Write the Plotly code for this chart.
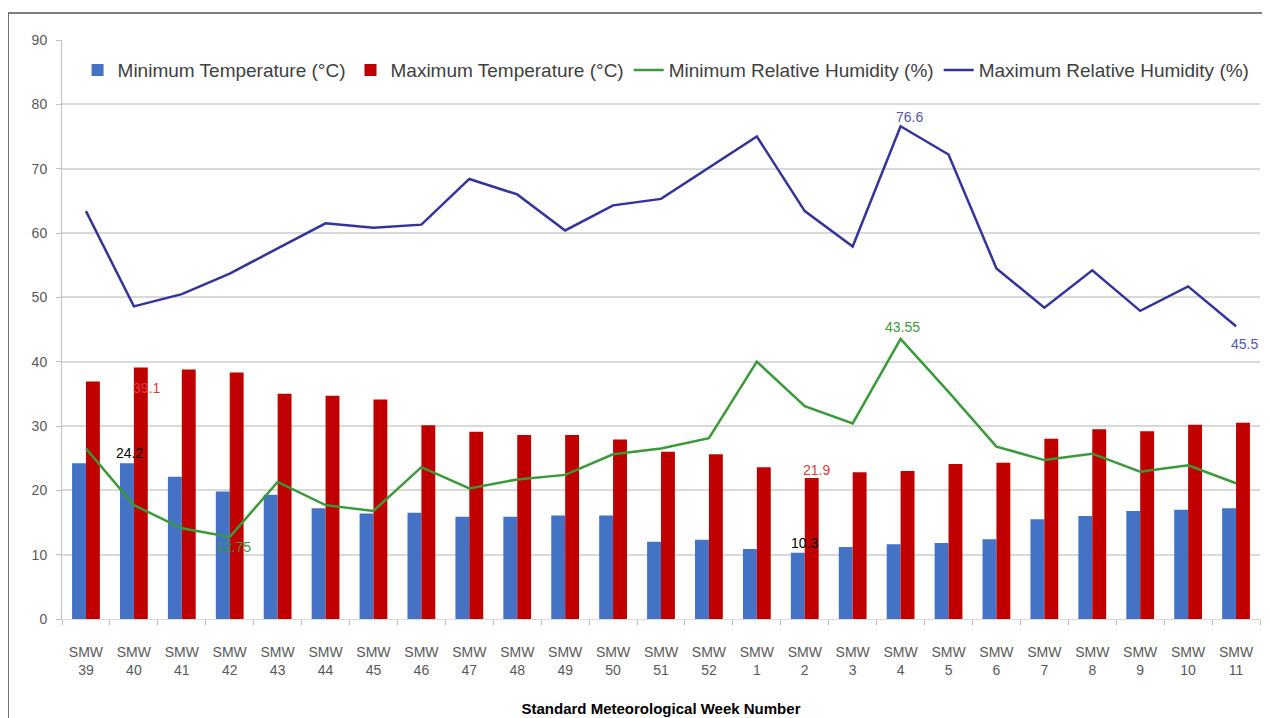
import plotly.graph_objects as go

weeks = ["39", "40", "41", "42", "43", "44", "45", "46", "47", "48", "49", "50", "51", "52",
         "1", "2", "3", "4", "5", "6", "7", "8", "9", "10", "11"]
categories = ["SMW<br>" + w for w in weeks]

min_temp = [24.2, 24.2, 22.1, 19.8, 19.3, 17.2, 16.4, 16.5, 15.9, 15.9, 16.1, 16.1, 12.0, 12.3,
            10.9, 10.3, 11.2, 11.6, 11.8, 12.4, 15.5, 16.0, 16.8, 17.0, 17.2]
max_temp = [36.9, 39.1, 38.8, 38.3, 35.0, 34.7, 34.1, 30.1, 29.1, 28.6, 28.6, 27.9, 26.0, 25.6,
            23.6, 21.9, 22.8, 23.0, 24.1, 24.3, 28.0, 29.5, 29.2, 30.2, 30.5]
min_rh = [26.5, 17.7, 14.1, 12.75, 21.3, 17.7, 16.8, 23.6, 20.3, 21.7, 22.4, 25.6, 26.5, 28.1,
          40.0, 33.1, 30.4, 43.55, 35.3, 26.8, 24.7, 25.7, 22.9, 23.9, 21.1]
max_rh = [63.4, 48.6, 50.5, 53.7, 57.6, 61.5, 60.8, 61.3, 68.4, 66.0, 60.4, 64.3, 65.3, 70.2,
          75.0, 63.4, 57.9, 76.6, 72.2, 54.5, 48.4, 54.2, 47.9, 51.7, 45.5]

series_names = ["Minimum Temperature (°C)", "Maximum Temperature (°C)",
                "Minimum Relative Humidity (%)", "Maximum Relative Humidity (%)"]
y_ticks = [0, 10, 20, 30, 40, 50, 60, 70, 80, 90]
x_title = "Standard Meteorological Week Number"

FONT = "Liberation Sans Narrow, Liberation Sans, Arial, sans-serif"
C_BLUE = "#4472C4"
C_RED = "#C00000"
C_GREEN = "#3A9A3A"
C_NAVY = "#333399"

fig = go.Figure()
fig.add_trace(go.Bar(x=categories, y=min_temp, name=series_names[0], marker_color=C_BLUE,
                     marker_line_width=0))
fig.add_trace(go.Bar(x=categories, y=max_temp, name=series_names[1], marker_color=C_RED,
                     marker_line_width=0))
fig.add_trace(go.Scatter(x=categories, y=min_rh, name=series_names[2], mode="lines",
                         line=dict(color=C_GREEN, width=2.5)))
fig.add_trace(go.Scatter(x=categories, y=max_rh, name=series_names[3], mode="lines",
                         line=dict(color=C_NAVY, width=2.5)))

# data labels (series values, category index, colour, xshift, yshift)
labels = [
    (min_temp, 1, "black", -4, 10),
    (max_temp, 1, "#E03A3A", 13, -21),
    (min_rh, 3, C_GREEN, 4, -10),
    (min_temp, 15, "black", 0, 10),
    (max_temp, 15, "#E03A3A", 12, 8),
    (max_rh, 17, "#5555AA", 9, 9),
    (min_rh, 17, C_GREEN, 2, 12),
    (max_rh, 24, "#5555AA", 8, -18),
]
for vals, i, col, xs, ys in labels:
    fig.add_annotation(x=categories[i], y=vals[i], text=str(vals[i]), showarrow=False,
                       xshift=xs, yshift=ys, font=dict(family=FONT, size=14, color=col))

fig.update_layout(
    width=1270, height=718,
    margin=dict(l=54, r=18, t=32, b=107),
    paper_bgcolor="white", plot_bgcolor="white",
    barmode="group", bargap=0.42, bargroupgap=0,
    font=dict(family=FONT, size=13, color="#595959"),
    showlegend=True,
    legend=dict(orientation="h", x=0.013, y=0.948, xanchor="left", yanchor="middle",
                font=dict(family=FONT, size=19, color="#404040"),
                bgcolor="rgba(255,255,255,0)", itemwidth=30, traceorder="normal"),
    xaxis=dict(type="category", tickson="boundaries", ticks="outside", ticklen=5,
               tickcolor="#bfbfbf", showline=True, linecolor="#d9d9d9", linewidth=1,
               showgrid=False, ticklabelstandoff=20,
               tickfont=dict(family=FONT, size=14, color="#595959"),
               title=dict(text="<b>" + x_title + "</b>", standoff=26,
                          font=dict(family=FONT, size=15, color="#000000"))),
    yaxis=dict(range=[0, 90], tickvals=y_ticks, ticks="outside", ticklen=5,
               tickcolor="#bfbfbf", showline=True, linecolor="#bfbfbf", linewidth=1,
               showgrid=True, gridcolor="#d9d9d9", gridwidth=1.5, zeroline=False,
               ticklabelstandoff=6,
               tickfont=dict(family=FONT, size=14, color="#595959")),
)

# outer frame of the picture
fig.add_shape(type="rect", xref="paper", yref="paper", x0=-0.045, x1=1.03, y0=-0.25, y1=1.0466,
              line=dict(color="#555555", width=1.5), layer="below")

fig.write_html("out.html")
